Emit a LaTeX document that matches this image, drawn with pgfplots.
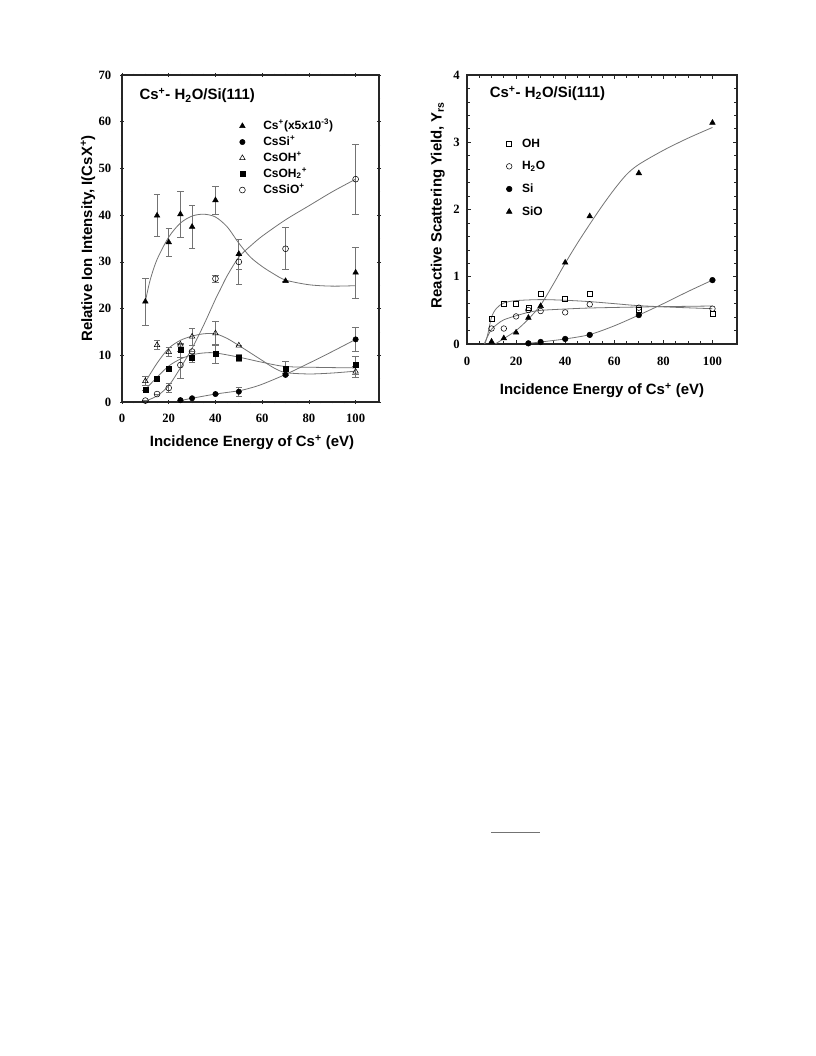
\documentclass[border=0pt]{standalone}
\usepackage{fontspec}
\setmainfont{Liberation Sans}
\newfontfamily\tnr{Liberation Serif}
\usepackage{pgfplots}
\pgfplotsset{compat=1.18}
\usepackage{pgfplotstable}

\newcommand\lab{\fontsize{11.2}{13}\selectfont\bfseries}
\newcommand\leg{\fontsize{9}{10}\selectfont\bfseries}

% left panel: x  y  err
\pgfplotstableread{
x y e
10 21.5 5
15 39.9 4.5
20 34.2 3
25 40.2 5
30 37.5 4.6
40 43.2 3
50 31.7 3.2
70 25.9 0
100 27.7 5.5
}\cs
\pgfplotstableread{
x y e
25 0.4 0
30 0.8 0
40 1.7 0
50 2.2 1
70 5.8 0
100 13.4 2.5
}\cssi
\pgfplotstableread{
x y e
10 4.5 1
15 12.2 0.9
20 10.7 1
25 12.3 0
30 14.0 1.8
40 14.7 2.5
50 12.1 0
70 6.1 0
100 6.5 1.2
}\csoh
\pgfplotstableread{
x y e
10 2.6 0
15 4.9 0
20 7.2 0
25 11.1 1.5
30 9.4 1
40 10.3 2
50 9.5 0.8
70 7.2 1.6
100 7.9 1.9
}\csohh
\pgfplotstableread{
x y e
10 0.3 0
15 1.7 0
20 3.0 1
25 7.9 2.9
30 10.8 0
40 26.4 0.8
50 30.0 4.8
70 32.8 4.5
100 47.7 7.5
}\cssio

% right panel
\pgfplotstableread{
x y
10 0.38
15 0.605
20 0.605
25 0.545
30 0.74
40 0.67
50 0.75
70 0.505
100 0.445
}\oh
\pgfplotstableread{
x y
10 0.23
15 0.23
20 0.41
25 0.505
30 0.49
40 0.47
50 0.59
70 0.54
100 0.525
}\hho
\pgfplotstableread{
x y
25 0.01
30 0.03
40 0.075
50 0.135
70 0.43
100 0.95
}\si
\pgfplotstableread{
x y
10 0.035
15 0.085
20 0.17
25 0.39
30 0.565
40 1.21
50 1.90
70 2.54
100 3.29
}\sio

\pgfplotsset{
  panel/.style={
    scale only axis, anchor=south west,
    xmin=0, xmax=110, ymin=0,
    xtick={0,20,...,100}, minor x tick num=3,
    axis line style={black!85, line width=0.8pt},
    major tick length=3pt, minor tick length=2pt,
    every tick/.style={black!85, line width=0.5pt},
    tick label style={font=\tnr\bfseries\fontsize{9.5}{9.5}\selectfont},
    /pgf/number format/assume math mode=true,
    legend cell align=left,
    legend image code/.code={\draw[##1] plot coordinates {(0pt,0pt)};},
  },
  fit/.style={black!55, line width=0.6pt, smooth, no marks, forget plot},
  errs/.style={error bars/.cd, y dir=both, y explicit,
    error bar style={black!55, line width=0.5pt},
    error mark options={rotate=90, mark size=2.4pt, black!55, line width=0.5pt}},
}

\begin{document}
\begin{tikzpicture}
\useasboundingbox (0,0) rectangle (612pt,792pt);

\begin{axis}[panel,
  at={(91.5pt,490.5pt)}, width=192.75pt, height=245.25pt,
  ymax=70, ytick={0,10,...,70}, minor y tick num=1,
  tick align=center,
  xticklabel style={yshift=-4pt},
  yticklabel style={xshift=-3pt},
  xlabel={\lab Incidence Energy of Cs\textsuperscript{+} (eV)},
  ylabel={\lab Relative Ion Intensity, I(CsX\textsuperscript{+})},
  xlabel style={at={(axis description cs:0.506,-0.125)}, anchor=center},
  ylabel style={at={(axis description cs:-0.132,0.5)}, anchor=center},
  legend style={at={(axis description cs:0.456,0.863)}, anchor=north west,
    draw=none, fill=none, inner sep=0pt, row sep=3pt, font=\leg,
    nodes={inner sep=0pt, text height=7pt, text depth=2pt},
    /tikz/every odd column/.append style={column sep=13.5pt}},
]
\addplot[fit] coordinates {(10,21.5)(12,26)(15,30.5)(20,35.3)(25,38.3)(30,39.8)(35,40.2)(40,39.6)(45,37.5)(50,34)(55,31)(60,29)(65,27.4)(70,26.1)(80,25.1)(90,24.8)(100,24.9)};
\addplot[fit] coordinates {(10,0.2)(15,1.3)(20,3.5)(25,7.3)(30,11.5)(35,16.5)(40,22)(42,24)(45,27)(50,31)(55,33.4)(60,35.5)(70,39)(80,42)(90,45)(100,47.7)};
\addplot[fit] coordinates {(10,4.3)(15,8.3)(20,11.5)(25,13.2)(30,14.1)(35,14.6)(40,14.6)(45,13.6)(50,12.1)(55,10.5)(60,8.9)(65,7.3)(70,6.3)(80,6)(90,6.2)(100,6.6)};
\addplot[fit] coordinates {(10,2.7)(15,5.3)(20,7.7)(25,9.2)(30,10.1)(35,10.5)(40,10.5)(50,9.6)(60,8.5)(70,7.6)(85,7.4)(100,7.3)};
\addplot[fit] coordinates {(25,0.3)(30,0.8)(40,1.7)(50,2.4)(55,3)(60,3.8)(70,5.9)(80,8.3)(90,10.8)(100,13.4)};

\addplot[only marks, mark=triangle*, mark size=2.4pt, black, errs] table[y error=e] {\cs};
\addlegendentry{Cs\textsuperscript{+}(x5x10\textsuperscript{-3})}
\addplot[only marks, mark=*, mark size=2pt, black, errs] table[y error=e] {\cssi};
\addlegendentry{CsSi\textsuperscript{+}}
\addplot[only marks, mark=triangle, mark size=2.4pt, black, mark options={fill=white}, errs] table[y error=e] {\csoh};
\addlegendentry{CsOH\textsuperscript{+}}
\addplot[only marks, mark=square*, mark size=1.9pt, black, errs] table[y error=e] {\csohh};
\addlegendentry{CsOH\textsubscript{2}\textsuperscript{+}}
\addplot[only marks, mark=o, mark size=2.2pt, black, mark options={fill=white}, errs] table[y error=e] {\cssio};
\addlegendentry{CsSiO\textsuperscript{+}}

\node[anchor=west, font=\lab] at (axis description cs:0.05,0.937) {Cs\textsuperscript{+}- H\textsubscript{2}O/Si(111)};
\end{axis}

\begin{axis}[panel,
  at={(350.25pt,534pt)}, width=202.5pt, height=201.75pt,
  ymax=4, ytick={0,1,...,4}, minor y tick num=4,
  tick align=inside,
  xticklabel style={yshift=-6pt},
  yticklabel style={xshift=-2pt},
  xlabel={\lab Incidence Energy of Cs\textsuperscript{+} (eV)},
  ylabel={\lab Reactive Scattering Yield, Y\textsubscript{rs}},
  xlabel style={at={(axis description cs:0.5,-0.173)}, anchor=center},
  ylabel style={at={(axis description cs:-0.108,0.517)}, anchor=center},
  legend style={at={(axis description cs:0.145,0.768)}, anchor=north west,
    draw=none, fill=none, inner sep=0pt, row sep=8pt, font=\leg,
    nodes={inner sep=0pt, text height=7pt, text depth=2pt},
    /tikz/every odd column/.append style={column sep=7.5pt}},
]
\addplot[fit] coordinates {(7.3,0)(8.5,0.15)(10,0.4)(12,0.53)(15,0.61)(20,0.645)(30,0.66)(40,0.65)(50,0.63)(60,0.6)(70,0.57)(85,0.545)(100,0.525)};
\addplot[fit] coordinates {(7,0)(8.5,0.12)(10,0.22)(12.5,0.3)(15,0.36)(20,0.42)(25,0.47)(30,0.5)(40,0.52)(50,0.535)(70,0.55)(100,0.565)};
\addplot[fit] coordinates {(25,0.01)(30,0.03)(40,0.075)(50,0.14)(60,0.27)(70,0.43)(80,0.6)(90,0.78)(100,0.95)};
\addplot[fit] coordinates {(11.5,0)(15,0.08)(20,0.2)(25,0.37)(30,0.58)(35,0.88)(40,1.2)(45,1.5)(50,1.78)(55,2.05)(60,2.3)(65,2.52)(70,2.67)(80,2.88)(90,3.06)(100,3.22)};

\addplot[only marks, mark=square, mark size=1.9pt, black, mark options={fill=white}] table {\oh};
\addlegendentry{OH}
\addplot[only marks, mark=o, mark size=2.1pt, black, mark options={fill=white}] table {\hho};
\addlegendentry{H\textsubscript{2}O}
\addplot[only marks, mark=*, mark size=2.1pt, black] table {\si};
\addlegendentry{Si}
\addplot[only marks, mark=triangle*, mark size=2.4pt, black] table {\sio};
\addlegendentry{SiO}

\node[anchor=west, font=\lab] at (axis description cs:0.067,0.931) {Cs\textsuperscript{+}- H\textsubscript{2}O/Si(111)};
\end{axis}

\draw[black!55, line width=1.1pt] (368.25pt,167.5pt) -- (405pt,167.5pt);
\end{tikzpicture}
\end{document}
